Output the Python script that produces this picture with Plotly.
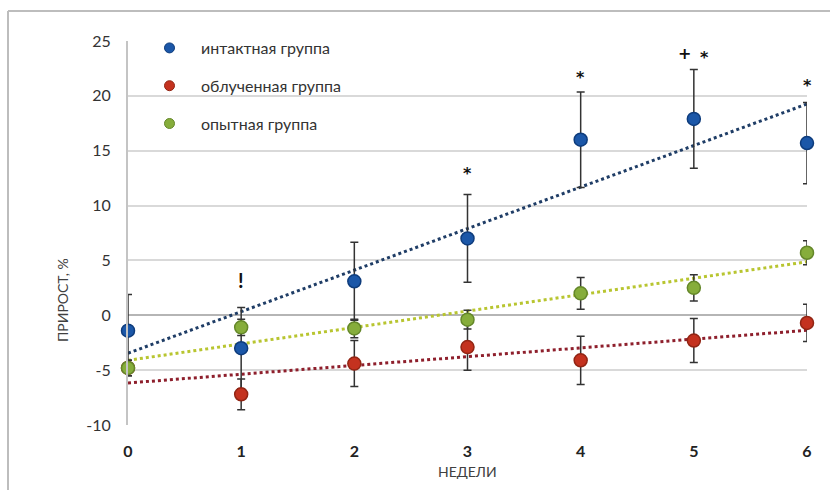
import numpy as np
import plotly.graph_objects as go

# Weeks of observation
weeks = [0, 1, 2, 3, 4, 5, 6]

# Mean gain, % (with error half-widths) per group
intact_mean = [-1.4, -3.0, 3.1, 7.0, 16.0, 17.9, 15.7]
intact_err = [3.3, 3.7, 3.55, 4.0, 4.35, 4.5, 3.7]

irradiated_mean = [-4.8, -7.2, -4.4, -2.9, -4.1, -2.3, -0.7]
irradiated_err = [0.7, 1.4, 2.1, 2.1, 2.2, 2.0, 1.7]

experimental_mean = [-4.8, -1.1, -1.2, -0.4, 2.0, 2.5, 5.7]
experimental_err = [0.7, 0.75, 0.85, 0.85, 1.45, 1.2, 1.1]

group_names = ["интактная группа", "облученная группа", "опытная группа"]

y_tick_vals = [-10, -5, 0, 5, 10, 15, 20, 25]
y_tick_text = ["-10", "-5", "0", "5", "10", "15", "20", "25"]

# Significance marks above points: (x, y, symbol)
mark_x = [1, 3, 4, 4.92, 5.09, 6]
mark_y = [3.2, 12.9, 21.7, 23.9, 23.5, 20.9]
mark_text = ["!", "*", "*", "+", "*", "*"]

FONT = "Lato, 'Open Sans', sans-serif"
TEXT = "#404040"

series = [
    (intact_mean, intact_err, "#1b57a8", "#0e3c7c", "#1f3d66"),
    (irradiated_mean, irradiated_err, "#c4321f", "#922514", "#8e1f2c"),
    (experimental_mean, experimental_err, "#86ad3b", "#648729", "#b8c530"),
]

fig = go.Figure()

# Linear trend lines (least squares over the weekly means)
for mean, _err, _c, _o, trend_color in series:
    k, b = np.polyfit(weeks, mean, 1)
    xs = [weeks[0], weeks[-1]]
    fig.add_trace(go.Scatter(
        x=xs, y=[k * x + b for x in xs], mode="lines",
        line=dict(color=trend_color, width=3, dash="3px,3px"),
        showlegend=False, hoverinfo="skip", cliponaxis=False,
    ))

# Group means with error bars
for i, (name, (mean, err, color, outline, _t)) in enumerate(zip(group_names, series)):
    fig.add_trace(go.Scatter(
        x=weeks, y=mean, mode="markers", name=name,
        legendgroup=f"g{i}", showlegend=False,
        marker=dict(size=13, color=color, line=dict(color=outline, width=1.5)),
        error_y=dict(type="data", array=err, visible=True,
                     color="#333333", thickness=1.5, width=4),
        cliponaxis=False,
    ))
    # legend entry with a smaller swatch
    fig.add_trace(go.Scatter(
        x=[None], y=[None], mode="markers", name=name,
        legendgroup=f"g{i}",
        marker=dict(size=10, color=color, line=dict(color=outline, width=1)),
    ))

annotations = [
    dict(x=x, y=y, text=f"<b>{t}</b>", xref="x", yref="y", showarrow=False,
         font=dict(family="'DejaVu Sans', sans-serif", size=16, color="#111111"))
    for x, y, t in zip(mark_x, mark_y, mark_text)
]
annotations[0]["font"] = dict(family=FONT, size=20, color="#111111")

annotations += [
    dict(text="ПРИРОСТ, %", xref="paper", yref="paper",
         x=(62 - 128) / 679, y=(425 - 300) / 384, textangle=-90,
         xanchor="center", yanchor="middle",
         showarrow=False, font=dict(family=FONT, size=14, color=TEXT)),
    dict(text="НЕДЕЛИ", xref="paper", yref="paper",
         x=(467 - 128) / 679, y=(425 - 471) / 384,
         xanchor="center", yanchor="middle", showarrow=False,
         font=dict(family=FONT, size=14, color=TEXT)),
]

# Chart frame (top and left edges)
shapes = [
    dict(type="line", xref="paper", yref="paper",
         x0=(8 - 128) / 679, x1=(832 - 128) / 679,
         y0=1 + (41 - 11) / 384, y1=1 + (41 - 11) / 384,
         line=dict(color="#bdbdbd", width=2)),
    dict(type="line", xref="paper", yref="paper",
         x0=(8 - 128) / 679, x1=(8 - 128) / 679,
         y0=1 + (41 - 11) / 384, y1=(425 - 492) / 384,
         line=dict(color="#bdbdbd", width=2)),
]

fig.update_layout(
    width=830, height=490,
    margin=dict(l=128, r=23, t=41, b=65),
    paper_bgcolor="white", plot_bgcolor="white",
    font=dict(family=FONT, color=TEXT),
    showlegend=True,
    legend=dict(
        x=(138 - 128) / 679, y=1 + (41 - 31) / 384,
        xanchor="left", yanchor="top",
        bgcolor="rgba(0,0,0,0)",
        font=dict(family=FONT, size=16, color="#333333"),
        traceorder="grouped", tracegroupgap=14,
        itemsizing="trace", itemwidth=53,
    ),
    xaxis=dict(
        range=[0, 6], tickvals=weeks, ticktext=[str(w) for w in weeks],
        showgrid=False, zeroline=False, showline=False,
        ticks="outside", ticklen=12, tickcolor="rgba(0,0,0,0)",
        tickfont=dict(family=FONT, size=16, color="#222222", weight="bold"),
    ),
    yaxis=dict(
        range=[-10, 25], tickvals=y_tick_vals, ticktext=y_tick_text,
        showgrid=True, gridcolor="#d9d9d9", gridwidth=1.5,
        zeroline=True, zerolinecolor="#b5b5b5", zerolinewidth=2,
        showline=True, linecolor="#c4c4c4", linewidth=2,
        ticks="outside", ticklen=12, tickcolor="rgba(0,0,0,0)",
        tickfont=dict(family=FONT, size=16, color="#333333"),
    ),
    annotations=annotations,
    shapes=shapes,
)

fig.write_html("out.html")
